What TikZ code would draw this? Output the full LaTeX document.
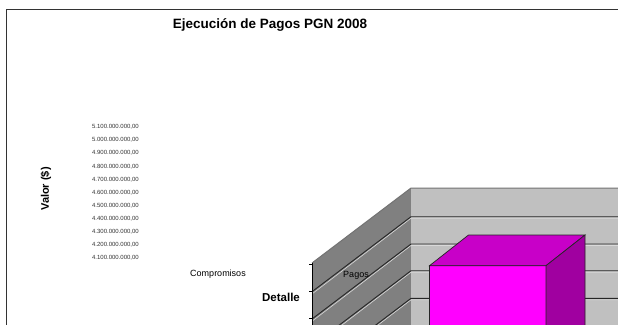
\documentclass[tikz,border=0pt]{standalone}
\usepackage{fontspec}
\setmainfont{Liberation Sans}
\definecolor{sidewallc}{HTML}{808080}
\definecolor{backwallc}{HTML}{C0C0C0}
\definecolor{frontc}{HTML}{FF00FF}
\definecolor{topc}{HTML}{C800C8}
\definecolor{rightc}{HTML}{A000A0}
\tikzset{
  frameline/.style={draw=black!80, line width=0.9pt},
  gridl/.style={draw=black!85, line width=0.9pt},
  gridhl/.style={draw=white!85!black, line width=0.6pt},
  edgel/.style={draw=black!55, line width=1pt},
  boxl/.style={draw=black!85, line width=0.7pt},
  ticklab/.style={anchor=east, inner sep=0pt, text=black!80, font=\fontsize{6}{7}\selectfont},
  catlab/.style={inner sep=0pt, font=\fontsize{9}{10}\selectfont},
}
\begin{document}
\begin{tikzpicture}[x=1pt,y=-1pt]
\useasboundingbox (0,0) rectangle (618,324);
\clip (0,0) rectangle (618,324);
\fill[white] (0,0) rectangle (618,324);
\draw[frameline] (6,340) -- (6,9) -- (630,9);
% walls
\fill[sidewallc] (312,263) -- (411,188) -- (411,340) -- (312,340) -- cycle;
\fill[backwallc] (411,188) rectangle (630,340);
\foreach \gy in {216.7,244,270.7,298.3} {
  \draw[gridhl] (313,\gy+76.5) -- (411,\gy+1.5) -- (630,\gy+1.5);
  \draw[gridl] (312,\gy+75) -- (411,\gy) -- (630,\gy);
}
\draw[edgel] (312,263) -- (411,188) -- (630,188);
\draw[draw=black, line width=0.8pt] (312,263) -- (312,340);
\foreach \ty in {264,291.7,318.5} {
  \draw[draw=black, line width=0.8pt] (309,\ty) -- (312,\ty);
}
% bar
\filldraw[boxl, fill=frontc] (429.5,265.7) rectangle (546,340);
\filldraw[boxl, fill=topc] (429.5,265.7) -- (546,265.7) -- (585,235) -- (468.5,235) -- cycle;
\filldraw[boxl, fill=rightc] (546,265.7) -- (585,235) -- (585,340) -- (546,340) -- cycle;
% texts
\node[inner sep=0pt, font=\bfseries\fontsize{13.5}{15}\selectfont] (title) at (270,25) {Ejecución de Pagos PGN 2008};
\node[inner sep=0pt, rotate=90, font=\bfseries\fontsize{11}{12}\selectfont] (ylab) at (46,189) {Valor (\$)};
\foreach \v [count=\i from 0] in {5.100,5.000,4.900,4.800,4.700,4.600,4.500,4.400,4.300,4.200,4.100} {
  \node[ticklab] (t\i) at (139,127+13.1*\i) {\v.000.000,00};
}
\node[catlab] (comp) at (218,274) {Compromisos};
\node[catlab] (pagos) at (356,275) {Pagos};
\node[inner sep=0pt, font=\bfseries\fontsize{11.5}{13}\selectfont] (xlab) at (281,297) {Detalle};
\end{tikzpicture}
\end{document}
